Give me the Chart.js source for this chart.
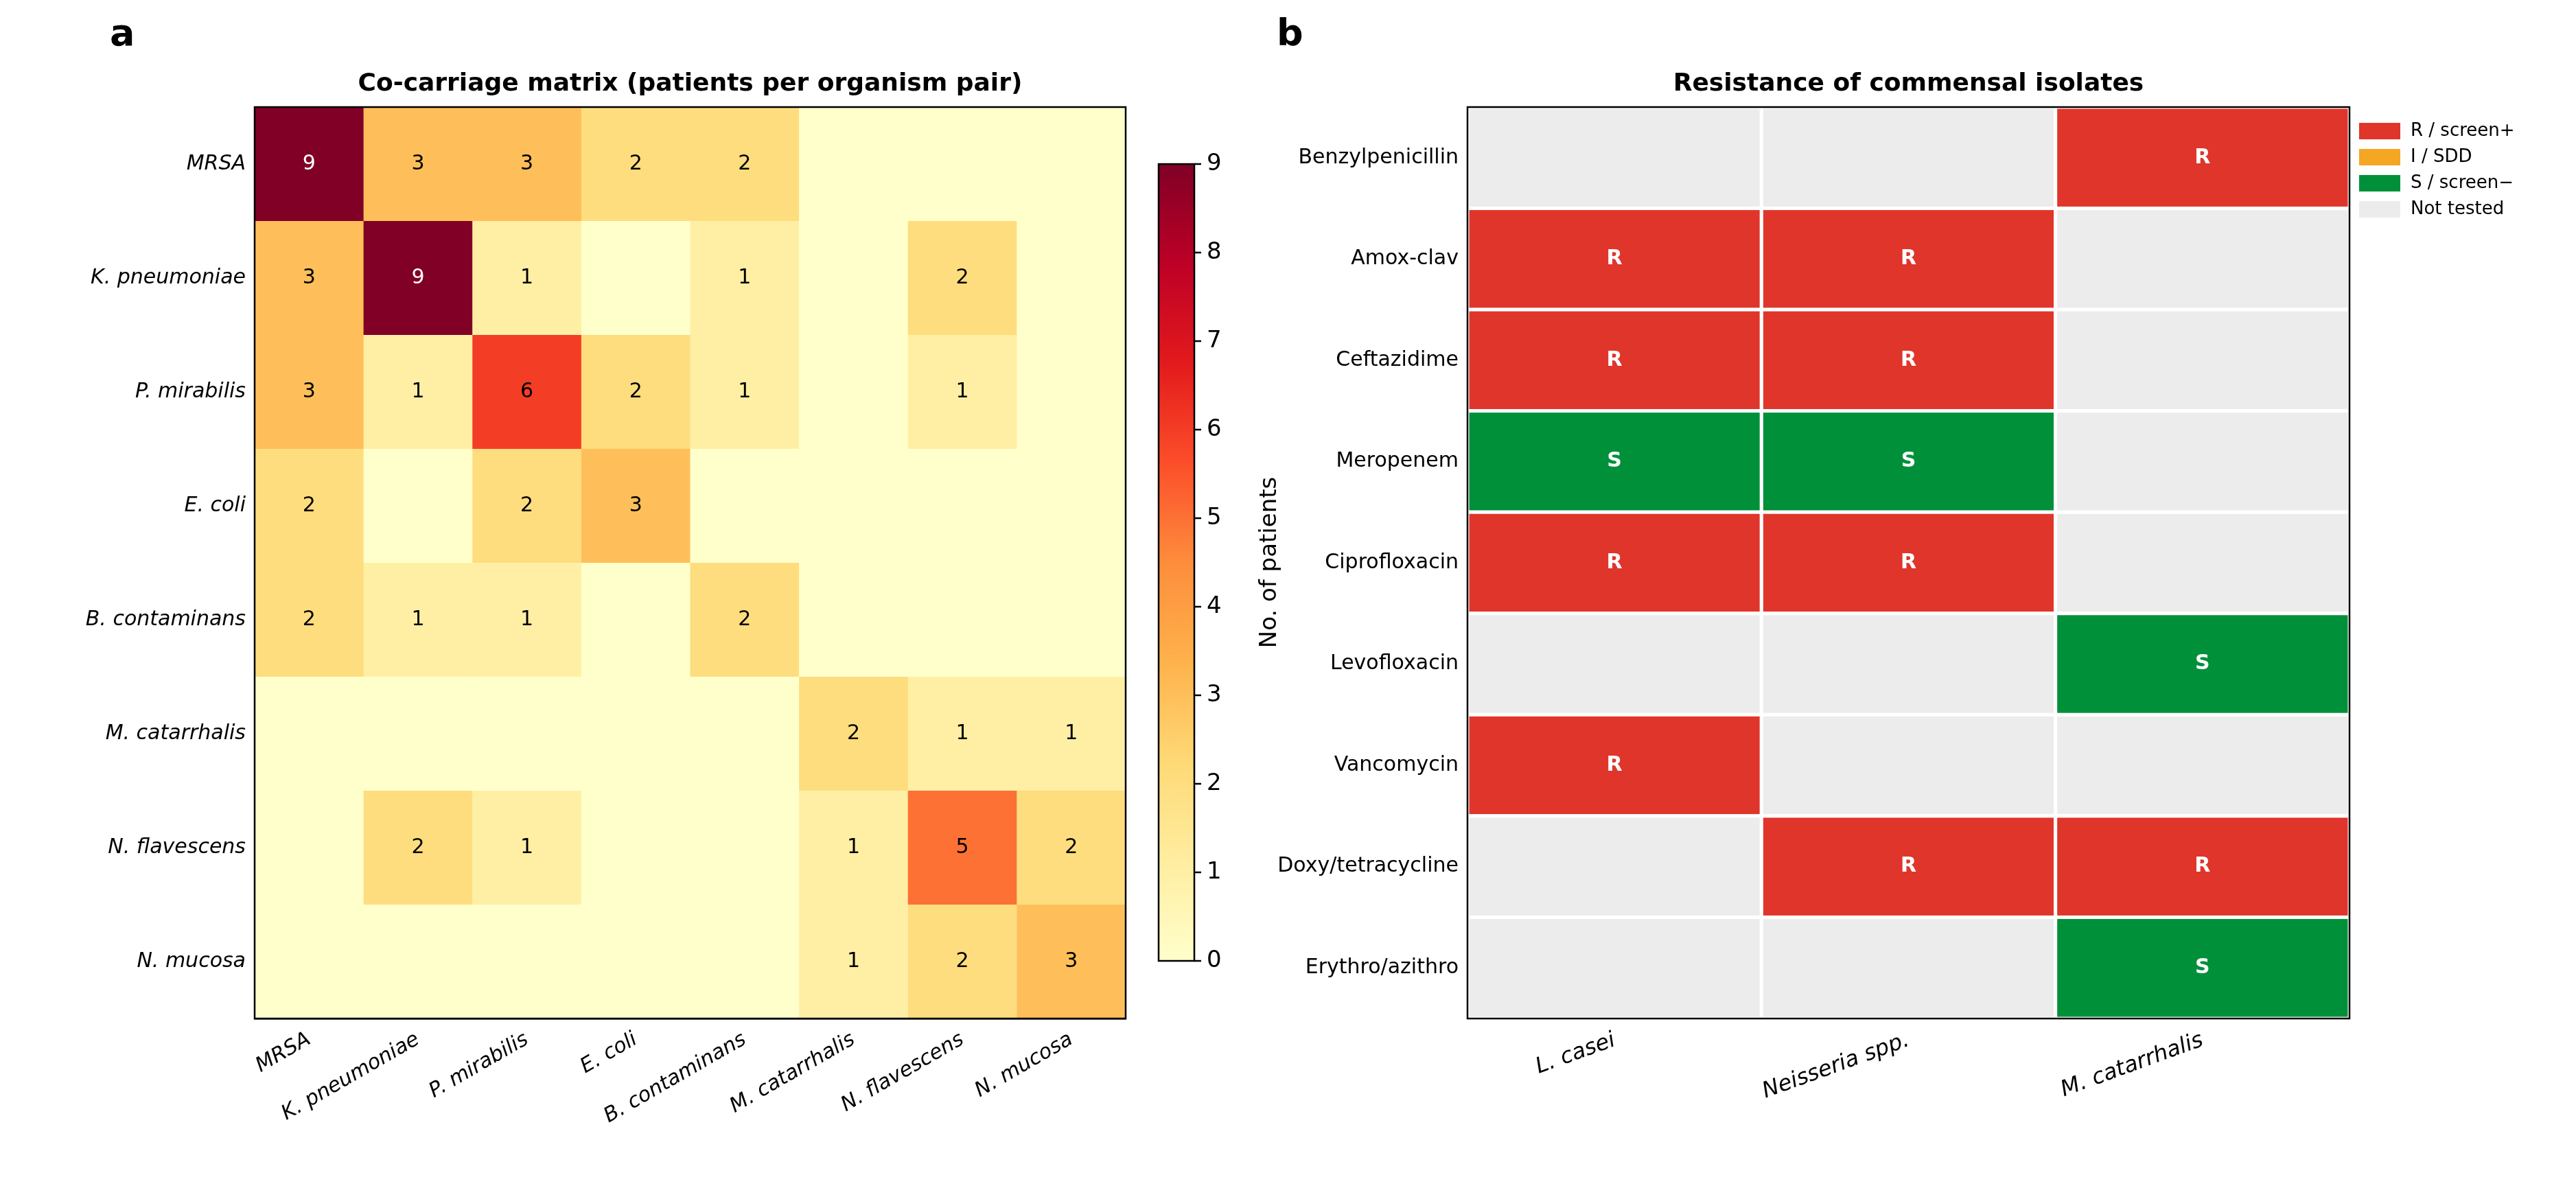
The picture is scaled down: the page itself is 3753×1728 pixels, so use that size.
<!DOCTYPE html>
<html><head><meta charset="utf-8">
<script src="https://cdn.jsdelivr.net/npm/chart.js@4/dist/chart.umd.min.js"></script>
<style>
body{margin:0;background:#fff;width:3753px;height:1728px;overflow:hidden;position:relative}
canvas{position:absolute;top:0}
</style></head><body>
<canvas id="c1" style="left:0" width="1960" height="1728"></canvas>
<canvas id="c2" style="left:1860px" width="1893" height="1728"></canvas>
<script>
// panel a data
const organisms = ['MRSA','K. pneumoniae','P. mirabilis','E. coli','B. contaminans','M. catarrhalis','N. flavescens','N. mucosa'];
const coCarriage = [
  [9,3,3,2,2,0,0,0],
  [3,9,1,0,1,0,2,0],
  [3,1,6,2,1,0,1,0],
  [2,0,2,3,0,0,0,0],
  [2,1,1,0,2,0,0,0],
  [0,0,0,0,0,2,1,1],
  [0,2,1,0,0,1,5,2],
  [0,0,0,0,0,1,2,3]
];
const colorbarTicks = [0,1,2,3,4,5,6,7,8,9];

// panel b data
const antibiotics = ['Benzylpenicillin','Amox-clav','Ceftazidime','Meropenem','Ciprofloxacin','Levofloxacin','Vancomycin','Doxy/tetracycline','Erythro/azithro'];
const isolates = ['L. casei','Neisseria spp.','M. catarrhalis'];
const resistance = [
  ['N','N','R'],
  ['R','R','N'],
  ['R','R','N'],
  ['S','S','N'],
  ['R','R','N'],
  ['N','N','S'],
  ['R','N','N'],
  ['N','R','R'],
  ['N','N','S']
];
const legendLabels = ['R / screen+','I / SDD','S / screen\u2212','Not tested'];

const FONT = 'DejaVu Sans';
const ylorrd = ['#ffffcc','#ffeda0','#fed976','#feb24c','#fd8d3c','#fc4e2a','#e31a1c','#bd0026','#800026'];
function hex(h){return [1,3,5].map(i=>parseInt(h.substr(i,2),16));}
function cmap(t){
  const p = Math.max(0,Math.min(1,t))*8, i = Math.min(7,Math.floor(p)), f = p-i;
  const a = hex(ylorrd[i]), b = hex(ylorrd[i+1]);
  return 'rgb('+a.map((v,k)=>Math.round(v+(b[k]-v)*f)).join(',')+')';
}
const statusColors = {R:'#e0352b', I:'#f5a623', S:'#00903a', N:'#ececec'};

function fixedTicks(n){ return s => { s.ticks = Array.from({length:n},(_, i)=>({value:i})); }; }

const cellsA = [];
coCarriage.forEach((row,r)=>row.forEach((v,c)=>cellsA.push({x:c,y:r,v:v})));

new Chart(document.getElementById('c1'), {
  type:'scatter',
  data:{datasets:[{data:cellsA,pointRadius:0}]},
  options:{
    responsive:false,animation:false,
    layout:{padding:{top:156,right:320,left:0,bottom:0}},
    plugins:{legend:{display:false},tooltip:{enabled:false}},
    scales:{
      x:{min:-0.5,max:7.5,afterBuildTicks:fixedTicks(8),
        afterFit:s=>{s.height=1728-1484;},
        grid:{display:false,drawTicks:true,tickLength:10},border:{color:'#000',width:2.5},
        ticks:{minRotation:30,maxRotation:30,color:'#000',font:{family:FONT,size:30,style:'italic'},callback:v=>organisms[v]}},
      y:{min:-0.5,max:7.5,reverse:true,afterBuildTicks:fixedTicks(8),
        afterFit:s=>{s.width=371;},
        grid:{display:false,tickLength:10},border:{color:'#000',width:2.5},
        ticks:{color:'#000',font:{family:FONT,size:30,style:'italic'},callback:v=>organisms[v]}}
    }
  },
  plugins:[{
    id:'heat',
    beforeDatasetsDraw(ch){
      const ctx=ch.ctx,x=ch.scales.x,y=ch.scales.y;
      ch.data.datasets[0].data.forEach(d=>{
        const x0=x.getPixelForValue(d.x-0.5),x1=x.getPixelForValue(d.x+0.5);
        const y0=y.getPixelForValue(d.y-0.5),y1=y.getPixelForValue(d.y+0.5);
        ctx.fillStyle=cmap(d.v/9);ctx.fillRect(x0,y0,x1-x0+0.5,y1-y0+0.5);
        if(d.v>0){
          ctx.fillStyle=d.v>=8?'#fff':'#000';ctx.font='30px '+FONT;
          ctx.textAlign='center';ctx.textBaseline='middle';
          ctx.fillText(String(d.v),(x0+x1)/2,(y0+y1)/2);
        }
      });
    },
    afterDraw(ch){
      const ctx=ch.ctx,a=ch.chartArea;
      ctx.strokeStyle='#000';ctx.lineWidth=2.5;ctx.strokeRect(a.left,a.top,a.right-a.left,a.bottom-a.top);
      ctx.fillStyle='#000';ctx.textAlign='center';ctx.textBaseline='alphabetic';
      ctx.font='bold 36px '+FONT;ctx.fillText('Co-carriage matrix (patients per organism pair)',(a.left+a.right)/2,a.top-24);
      ctx.font='bold 54px '+FONT;ctx.textAlign='left';ctx.fillText('a',160,66);
      // colorbar
      const cx=1688,cw=52,ct=239,cb=1400;
      const g=ctx.createLinearGradient(0,cb,0,ct);
      for(let i=0;i<=8;i++) g.addColorStop(i/8,ylorrd[i]);
      ctx.fillStyle=g;ctx.fillRect(cx,ct,cw,cb-ct);
      ctx.strokeRect(cx,ct,cw,cb-ct);
      ctx.font='34px '+FONT;ctx.textBaseline='middle';ctx.textAlign='left';ctx.fillStyle='#000';
      colorbarTicks.forEach(t=>{
        const py=cb-(cb-ct)*t/9;
        ctx.beginPath();ctx.moveTo(cx+cw,py);ctx.lineTo(cx+cw+10,py);ctx.stroke();
        ctx.fillText(String(t),cx+cw+18,py);
      });
      ctx.save();ctx.translate(1850,(ct+cb)/2);ctx.rotate(-Math.PI/2);
      ctx.textAlign='center';ctx.font='34px '+FONT;ctx.fillText('No. of patients',0,0);ctx.restore();
    }
  }]
});

const cellsB = [];
resistance.forEach((row,r)=>row.forEach((v,c)=>cellsB.push({x:c,y:r,s:v})));

new Chart(document.getElementById('c2'), {
  type:'scatter',
  data:{datasets:[{data:cellsB,pointRadius:0}]},
  options:{
    responsive:false,animation:false,
    layout:{padding:{top:156,right:1893-1563,left:0,bottom:0}},
    plugins:{legend:{display:false},tooltip:{enabled:false}},
    scales:{
      x:{min:-0.5,max:2.5,afterBuildTicks:fixedTicks(3),
        afterFit:s=>{s.height=1728-1484;},
        grid:{display:false,tickLength:10},border:{color:'#000',width:2.5},
        ticks:{minRotation:20,maxRotation:20,color:'#000',font:{family:FONT,size:32,style:'italic'},callback:v=>isolates[v]}},
      y:{min:-0.5,max:8.5,reverse:true,afterBuildTicks:fixedTicks(9),
        afterFit:s=>{s.width=278;},
        grid:{display:false,tickLength:10},border:{color:'#000',width:2.5},
        ticks:{color:'#000',font:{family:FONT,size:30},callback:v=>antibiotics[v]}}
    }
  },
  plugins:[{
    id:'res',
    beforeDatasetsDraw(ch){
      const ctx=ch.ctx,x=ch.scales.x,y=ch.scales.y;
      ch.data.datasets[0].data.forEach(d=>{
        const x0=x.getPixelForValue(d.x-0.5),x1=x.getPixelForValue(d.x+0.5);
        const y0=y.getPixelForValue(d.y-0.5),y1=y.getPixelForValue(d.y+0.5);
        ctx.fillStyle=statusColors[d.s];ctx.fillRect(x0,y0,x1-x0,y1-y0);
        ctx.strokeStyle='#fff';ctx.lineWidth=5;ctx.strokeRect(x0,y0,x1-x0,y1-y0);
        if(d.s!=='N'){
          ctx.fillStyle='#fff';ctx.font='bold 30px '+FONT;
          ctx.textAlign='center';ctx.textBaseline='middle';
          ctx.fillText(d.s,(x0+x1)/2,(y0+y1)/2);
        }
      });
    },
    afterDraw(ch){
      const ctx=ch.ctx,a=ch.chartArea;
      ctx.strokeStyle='#000';ctx.lineWidth=2.5;ctx.strokeRect(a.left,a.top,a.right-a.left,a.bottom-a.top);
      ctx.fillStyle='#000';ctx.textAlign='center';ctx.textBaseline='alphabetic';
      ctx.font='bold 36px '+FONT;ctx.fillText('Resistance of commensal isolates',(a.left+a.right)/2,a.top-24);
      ctx.font='bold 54px '+FONT;ctx.textAlign='left';ctx.fillText('b',-0+(1760-1860+100),66);
      // legend
      const keys=['R','I','S','N'];
      ctx.font='26px '+FONT;ctx.textBaseline='middle';
      keys.forEach((k,i)=>{
        const ly=191+i*38;
        ctx.fillStyle=statusColors[k];ctx.fillRect(1577,ly-12,60,24);
        ctx.fillStyle='#000';ctx.fillText(legendLabels[i],1652,ly);
      });
    }
  }]
});
</script>
</body></html>
